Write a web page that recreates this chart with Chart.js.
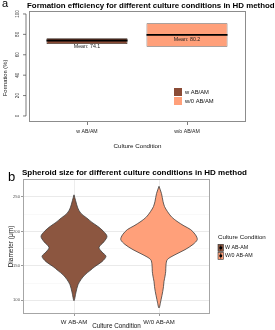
<!DOCTYPE html>
<html><head><meta charset="utf-8">
<script src="https://cdn.jsdelivr.net/npm/chart.js@4.4.1/dist/chart.umd.min.js"></script>
<style>
html,body{margin:0;padding:0;background:#fff;width:275px;height:330px;overflow:hidden;font-family:"Liberation Sans",Arial,sans-serif;}
#wrap{position:relative;width:275px;height:330px;}
.lbl{position:absolute;white-space:nowrap;color:#000;line-height:1;}
#c1{position:absolute;left:0;top:0;}
#c2{position:absolute;left:0;top:162px;}
</style></head>
<body><div id="wrap">
<canvas id="c1" width="275" height="162"></canvas>
<canvas id="c2" width="275" height="168"></canvas>
<div class="lbl" style="left:2px;top:-2px;font-size:11px;">a</div>
<div class="lbl" id="ta" style="left:27px;top:1.5px;font-size:7.9px;font-weight:bold;">Formation efficiency for different culture conditions in HD method</div>
<div class="lbl" style="left:8px;top:170px;font-size:13px;">b</div>
<div class="lbl" id="tb" style="left:22px;top:168.5px;font-size:8px;font-weight:bold;">Spheroid size for different culture conditions in HD method</div>
</div>
<script>
// ---------- data: panel a ----------
const boxCategories = ['w AB/AM', 'w/o AB/AM'];
const legendLabelsA = ['w AB/AM', 'w/0 AB/AM'];
const boxQ1 = [70.6, 67.9];
const boxQ3 = [76.2, 90.9];
const boxMedian = [74.0, 79.5];
const boxMean = [74.1, 80.2];
const yTicksA = [0, 20, 40, 60, 80, 100];

// ---------- data: panel b ----------
const violinCategories = ['W AB-AM', 'W/0 AB-AM'];
const diameterW = [253, 245, 234, 226, 219.5, 213, 207, 200, 192.7, 185, 176.7, 170, 163.7, 156, 149, 143, 137, 130, 122.5, 112, 99.3];
const densityW  = [0, 0.018, 0.044, 0.082, 0.149, 0.212, 0.282, 0.347, 0.388, 0.353, 0.294, 0.329, 0.376, 0.329, 0.247, 0.188, 0.129, 0.082, 0.047, 0.024, 0];
const diameterWo = [265.4, 255, 243.6, 236, 229, 221, 214.5, 208, 202.5, 195, 188, 181, 173.4, 166, 159, 151, 142, 135, 127.3, 120, 112.8, 100.6, 88.7];
const densityWo  = [0, 0.029, 0.047, 0.065, 0.098, 0.147, 0.212, 0.294, 0.373, 0.429, 0.45, 0.4, 0.306, 0.188, 0.098, 0.082, 0.079, 0.071, 0.059, 0.053, 0.044, 0.024, 0];
const meanDiameter = [176.7, 185.5];
const rangeLow = [154, 158.9];
const rangeHigh = [197.7, 210.8];
const yTicksB = [100, 125, 150, 175, 200, 225, 250];
const yLabelsB = [100, 150, 200, 250];

const BROWN_A = '#8a4b36';
const BROWN = '#8c5640';
const SALMON = '#ffa07a';
const FONT = '"Liberation Sans", Arial, sans-serif';
Chart.defaults.font.family = FONT;

// ---------- panel a ----------
const plugA = {
  id: 'plugA',
  afterDatasetsDraw(chart) {
    const {ctx, scales: {y}} = chart;
    ctx.save();
    const meta = chart.getDatasetMeta(0);
    meta.data.forEach((bar, i) => {
      const p = bar.getProps(['x', 'width'], true);
      const py = y.getPixelForValue(boxMedian[i]);
      ctx.strokeStyle = '#000'; ctx.lineWidth = 1.8;
      ctx.beginPath(); ctx.moveTo(p.x - p.width / 2, py); ctx.lineTo(p.x + p.width / 2, py); ctx.stroke();
      ctx.fillStyle = '#222'; ctx.font = '5.3px ' + FONT; ctx.textAlign = 'center'; ctx.textBaseline = 'middle';
      ctx.fillText('Mean: ' + boxMean[i].toFixed(1), p.x, y.getPixelForValue(boxMean[i] - 5.6));
    });
    ctx.restore();
  },
  afterDraw(chart) {
    const {ctx, chartArea: ca, scales: {y}} = chart;
    ctx.save();
    ctx.strokeStyle = '#8c8c8c'; ctx.lineWidth = 1;
    ctx.strokeRect(ca.left + 0.5, ca.top + 0.5, ca.right - ca.left - 1, ca.bottom - ca.top - 1);
    const ax = ca.left - 3;
    ctx.strokeStyle = '#444'; ctx.lineWidth = 0.7;
    ctx.beginPath();
    ctx.moveTo(ax, y.getPixelForValue(yTicksA[0]));
    ctx.lineTo(ax, y.getPixelForValue(yTicksA[yTicksA.length - 1]));
    yTicksA.forEach(v => { const py = y.getPixelForValue(v); ctx.moveTo(ax, py); ctx.lineTo(ax - 3, py); });
    ctx.stroke();
    ctx.fillStyle = '#333'; ctx.font = '4.6px ' + FONT; ctx.textAlign = 'center'; ctx.textBaseline = 'middle';
    yTicksA.forEach(v => {
      const py = y.getPixelForValue(v);
      ctx.save(); ctx.translate(ax - 8, py); ctx.rotate(-Math.PI / 2); ctx.fillText(String(v), 0, 0); ctx.restore();
    });
    ctx.font = '5.8px ' + FONT; ctx.fillStyle = '#111';
    ctx.save(); ctx.translate(5, 78); ctx.rotate(-Math.PI / 2); ctx.fillText('Formation (%)', 0, 0); ctx.restore();
    const lx = 174, ly = 88;
    [BROWN_A, SALMON].forEach((c, i) => {
      ctx.fillStyle = c; ctx.fillRect(lx, ly + i * 9, 8, 8);
      ctx.fillStyle = '#111'; ctx.font = '5.8px ' + FONT; ctx.textAlign = 'left';
      ctx.fillText(legendLabelsA[i], lx + 11, ly + 4 + i * 9);
    });
    ctx.restore();
  }
};

new Chart(document.getElementById('c1'), {
  type: 'scatter',
  data: {
    datasets: [
      {
        type: 'bar',
        data: boxCategories.map((c, i) => ({x: i + 1, y: [boxQ1[i], boxQ3[i]]})),
        backgroundColor: [BROWN_A, SALMON],
        borderColor: ['#3a2a22', '#6b5a52'],
        borderWidth: 0.8,
        borderSkipped: false,
        categoryPercentage: 1,
        barPercentage: 0.81
      },
      {
        type: 'scatter',
        data: boxCategories.map((c, i) => ({x: i + 1, y: boxMean[i]})),
        pointRadius: 0.9, pointBackgroundColor: '#000', pointBorderWidth: 0
      }
    ]
  },
  options: {
    responsive: false, animation: false, devicePixelRatio: 1,
    layout: {padding: {top: 11, right: 29, left: 0, bottom: 0}},
    plugins: {legend: {display: false}, tooltip: {enabled: false}},
    scales: {
      x: {
        type: 'linear', min: 0.42, max: 2.59, offset: false,
        afterBuildTicks: s => { s.ticks = boxCategories.map((c, i) => ({value: i + 1})); },
        afterFit: s => { s.height = 40; },
        ticks: {autoSkip: false, maxRotation: 0, padding: 3.5, color: '#222', font: {size: 5.2},
          callback: v => boxCategories[v - 1]},
        grid: {offset: false, drawOnChartArea: false, tickLength: 3, tickColor: '#444', tickWidth: 0.7},
        border: {display: false},
        title: {display: true, text: 'Culture Condition', color: '#111', font: {size: 6.2}, padding: {top: 0, bottom: 12}}
      },
      y: {
        type: 'linear', min: -5.9, max: 102.9,
        afterBuildTicks: s => { s.ticks = yTicksA.map(v => ({value: v})); },
        afterFit: s => { s.width = 29; },
        ticks: {display: false},
        grid: {display: false},
        border: {display: false}
      }
    }
  },
  plugins: [plugA]
});

// ---------- panel b ----------
function violinPoints(center, ys, ds) {
  const pts = ys.map((v, i) => ({x: center + ds[i], y: v}));
  for (let i = ys.length - 2; i >= 0; i--) pts.push({x: center - ds[i], y: ys[i]});
  return pts;
}

const plugB = {
  id: 'plugB',
  afterDraw(chart) {
    const {ctx, chartArea: ca} = chart;
    ctx.save();
    ctx.strokeStyle = '#a6a6a6'; ctx.lineWidth = 1;
    ctx.strokeRect(ca.left + 0.5, ca.top + 0.5, ca.right - ca.left - 1, ca.bottom - ca.top - 1);
    const lx = 218, ty = 75;
    ctx.fillStyle = '#111'; ctx.font = '6.2px ' + FONT; ctx.textAlign = 'left'; ctx.textBaseline = 'middle';
    ctx.fillText('Culture Condition', lx, ty);
    [BROWN, SALMON].forEach((c, i) => {
      const ky = 82.3 + i * 8;
      ctx.fillStyle = c; ctx.fillRect(lx, ky, 5.5, 7);
      ctx.strokeStyle = '#333'; ctx.lineWidth = 0.6; ctx.strokeRect(lx, ky, 5.5, 7);
      ctx.strokeStyle = 'rgba(70,30,15,0.85)'; ctx.lineWidth = 1;
      ctx.beginPath(); ctx.moveTo(lx + 2.75, ky + 0.6); ctx.lineTo(lx + 2.75, ky + 6.4); ctx.stroke();
      ctx.fillStyle = '#000'; ctx.beginPath(); ctx.arc(lx + 2.75, ky + 3.5, 1.5, 0, Math.PI * 2); ctx.fill();
      ctx.fillStyle = '#111'; ctx.font = '5.3px ' + FONT;
      ctx.fillText(violinCategories[i], lx + 7, ky + 3.6);
    });
    ctx.restore();
  }
};

const violinColors = [BROWN, SALMON];
const violinData = [[diameterW, densityW], [diameterWo, densityWo]];
const dsB = [];
violinData.forEach((vd, i) => {
  dsB.push({
    data: violinPoints(i + 1, vd[0], vd[1]),
    showLine: true, fill: 'shape', tension: 0.3,
    backgroundColor: violinColors[i], borderColor: '#3d3d3d', borderWidth: 0.8,
    pointRadius: 0
  });
});
violinCategories.forEach((c, i) => {
  dsB.push({
    data: [{x: i + 1, y: rangeLow[i]}, {x: i + 1, y: rangeHigh[i]}],
    showLine: true, borderColor: 'rgba(70,30,15,0.85)', borderWidth: 1.8, pointRadius: 0
  });
});
dsB.push({
  data: violinCategories.map((c, i) => ({x: i + 1, y: meanDiameter[i]})),
  pointRadius: 2.4, pointBackgroundColor: '#000', pointBorderWidth: 0
});

new Chart(document.getElementById('c2'), {
  type: 'scatter',
  data: {datasets: dsB},
  options: {
    responsive: false, animation: false, devicePixelRatio: 1,
    layout: {padding: {top: 17, right: 65, left: 0, bottom: 0}},
    plugins: {legend: {display: false}, tooltip: {enabled: false}},
    scales: {
      x: {
        type: 'linear', min: 0.4, max: 2.6,
        afterBuildTicks: s => { s.ticks = violinCategories.map((c, i) => ({value: i + 1})); },
        afterFit: s => { s.height = 16; },
        ticks: {autoSkip: false, maxRotation: 0, padding: 2.5, color: '#1a1a1a', font: {size: 6},
          callback: v => violinCategories[v - 1]},
        grid: {color: '#ebebeb', lineWidth: 0.9, tickLength: 2, tickColor: '#555', tickWidth: 0.6},
        border: {display: false},
        title: {display: true, text: 'Culture Condition', color: '#111', font: {size: 6.3}, padding: {top: 0, bottom: 0}}
      },
      y: {
        type: 'linear', min: 80, max: 276,
        afterBuildTicks: s => { s.ticks = yTicksB.map(v => ({value: v})); },
        afterFit: s => { s.width = 23; },
        ticks: {padding: 1, color: '#555', font: {size: 4.2},
          callback: v => yLabelsB.includes(v) ? String(v) : ''},
        grid: {
          color: c => (c.tick && yLabelsB.includes(c.tick.value)) ? '#e8e8e8' : '#f2f2f2',
          lineWidth: c => (c.tick && yLabelsB.includes(c.tick.value)) ? 0.9 : 0.5,
          tickLength: 2,
          tickColor: c => (c.tick && yLabelsB.includes(c.tick.value)) ? '#555' : 'rgba(0,0,0,0)',
          tickWidth: 0.6
        },
        border: {display: false},
        title: {display: true, text: 'Diameter (μm)', color: '#111', font: {size: 6.5}, padding: {top: 7, bottom: 0}}
      }
    }
  },
  plugins: [plugB]
});
</script>
</body></html>
